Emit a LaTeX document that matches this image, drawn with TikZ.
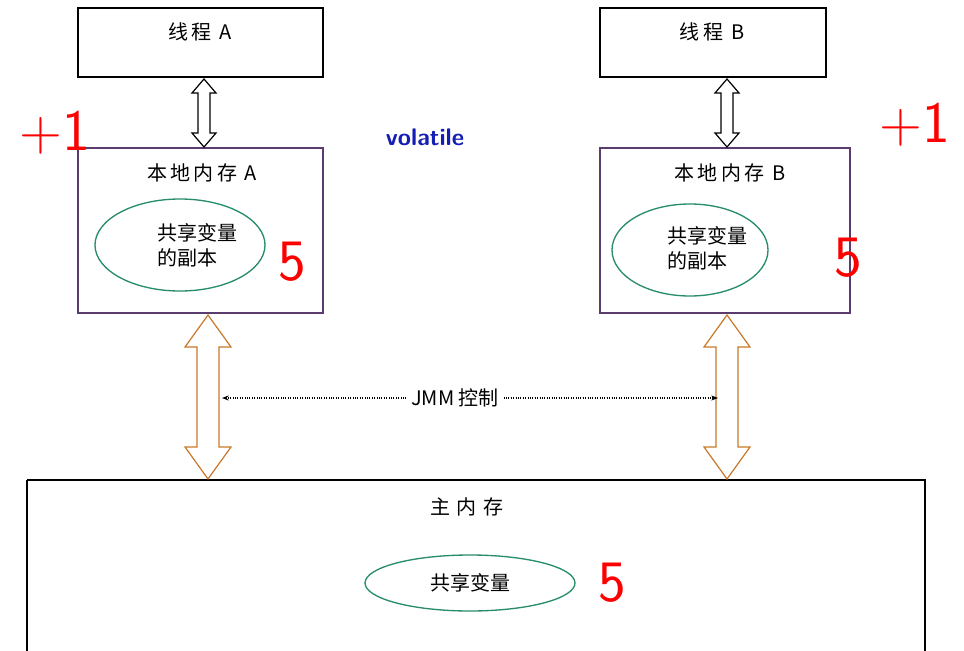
\documentclass[tikz,border=0pt]{standalone}
\usepackage{fontspec}
\setmainfont{Liberation Serif}
\newfontfamily\cjk{Noto Sans CJK SC}
\usetikzlibrary{arrows.meta}
\definecolor{boxpurple}{RGB}{90,60,110}
\definecolor{ellgreen}{RGB}{40,140,110}
\definecolor{arrorange}{RGB}{200,120,40}
\definecolor{vblue}{RGB}{20,30,180}
\newcommand{\dblarr}[7]{% x, ytop, ybot, halfshaft, halfhead, headlen, color
  \draw[#7,line width=0.9pt,fill=white] (#1,#2) -- (#1+#5,#2+#6) -- (#1+#4,#2+#6) -- (#1+#4,#3-#6) -- (#1+#5,#3-#6) -- (#1,#3) -- (#1-#5,#3-#6) -- (#1-#4,#3-#6) -- (#1-#4,#2+#6) -- (#1-#5,#2+#6) -- cycle;}
\begin{document}
\begin{tikzpicture}[x=0.75pt,y=-0.75pt,
  box/.style={draw=black,line width=0.9pt},
  lbox/.style={draw=boxpurple,line width=0.9pt},
  lab/.style={font=\cjk\fontsize{15}{19}\selectfont},
  red5/.style={text=red,font=\sffamily\fontsize{44}{44}\selectfont}]
\useasboundingbox (0,0) rectangle (964,650);
\fill[white] (0,0) rectangle (964,650);
% boxes
\draw[box] (78,8) rectangle (323,77);
\node[lab] (ta) at (200,32) {线\,程\, A};
\draw[box] (600,8) rectangle (826,77);
\node[lab] (tb) at (712,32) {线\,程\, B};
\draw[lbox] (78,148) rectangle (323,313);
\node[lab] (la) at (202,173) {本\,地\,内\,存\, A};
\draw[lbox] (600,148) rectangle (850,313);
\node[lab] (lb) at (730,173) {本\,地\,内\,存\, B};
\draw[box] (27,480) -- (27,660) (27,480) -- (925,480) -- (925,660);
\node[lab] (mm) at (467,507) {主\,\,内\,\,存};
% ellipses
\draw[ellgreen,line width=1pt] (180,245) ellipse [x radius=85, y radius=46];
\node[lab,align=left] (ca) at (197,245) {共享变量\\的副本};
\draw[ellgreen,line width=1pt] (690,250) ellipse [x radius=78, y radius=46];
\node[lab,align=left] (cb) at (707,248) {共享变量\\的副本};
\draw[ellgreen,line width=1pt] (470,583) ellipse [x radius=105, y radius=28];
\node[lab] (cm) at (470,583) {共享变量};
% arrows
\dblarr{204}{79}{147}{6}{12}{14}{black}
\dblarr{727}{79}{147}{6}{12}{14}{black}
\dblarr{208}{315}{479}{11}{23}{32}{arrorange}
\dblarr{727}{315}{479}{11}{23}{32}{arrorange}
\node[lab] (jmm) at (455,398) {JMM 控制};
\coordinate (jl) at (222,398);
\coordinate (jr) at (718,398);
\draw[densely dotted,line width=0.8pt,-{Stealth[length=5pt]}] (jmm.west) -- (jl);
\draw[densely dotted,line width=0.8pt,-{Stealth[length=5pt]}] (jmm.east) -- (jr);
% volatile
\node[text=vblue,font=\sffamily\bfseries\fontsize{18}{20}\selectfont] (vol) at (425,137) {volatile};
% red marks
\node[red5] (p1) at (55,133) {+1};
\node[red5] (p2) at (915,125) {+1};
\node[red5] (f1) at (292,262) {5};
\node[red5] (f2) at (848,258) {5};
\node[red5] (f3) at (612,583) {5};
\end{tikzpicture}
\end{document}
